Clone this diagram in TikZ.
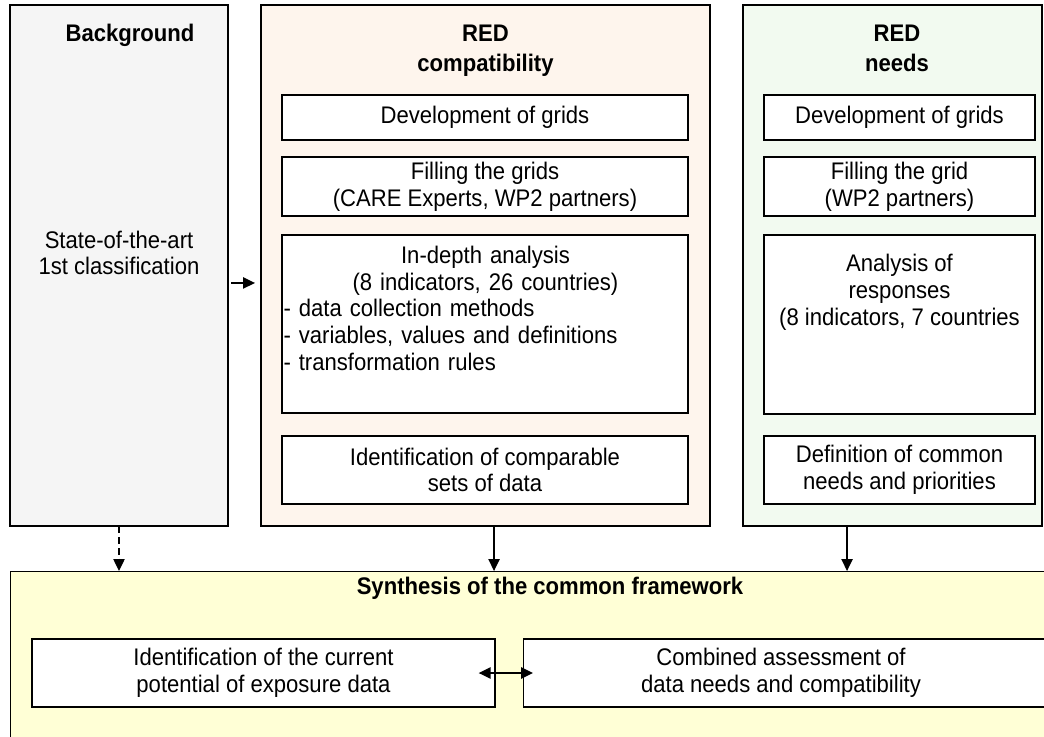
\documentclass[tikz,border=0pt]{standalone}
\usepackage{fontspec}
\setmainfont{Liberation Sans}[FakeStretch=0.92]
\usetikzlibrary{arrows.meta}

\definecolor{bgGray}{RGB}{245,245,245}
\definecolor{cmpPeach}{RGB}{254,245,237}
\definecolor{needGreen}{RGB}{242,250,240}
\definecolor{synYellow}{RGB}{255,255,214}

\newlength{\pxu}
\setlength{\pxu}{0.75pt}

\tikzset{every picture/.style={line width=0.75pt}}
\tikzset{
  colbox/.style={draw, line width=1pt, rectangle, inner sep=0pt},
  inbox/.style={draw, fill=white, line width=1pt, rectangle, inner sep=0pt, align=center},
  ttl/.style={inner sep=0pt, font=\bfseries},
  txt/.style={inner sep=0pt, align=center},
  arr/.style={line width=1pt, -{Triangle[length=9pt,width=8.5pt]}},
  dblarr/.style={line width=1.2pt, {Triangle[length=9pt,width=8.5pt]}-{Triangle[length=9pt,width=8.5pt]}},
}

\begin{document}
\fontsize{18pt}{20pt}\selectfont
\begin{tikzpicture}[x=0.75pt,y=0.75pt,yscale=-1,xscale=1]
\useasboundingbox (0,0) rectangle (1044,737);
\clip (0,0) rectangle (1044,737);

%Shape: Rectangle [id:bgBox]
\node[colbox, fill=bgGray, minimum width=218\pxu, minimum height=521\pxu] (bgBox) at (119,265.5) {};
%Shape: Rectangle [id:cmpBox]
\node[colbox, fill=cmpPeach, minimum width=449\pxu, minimum height=521\pxu] (cmpBox) at (485.5,265.5) {};
%Shape: Rectangle [id:needBox]
\node[colbox, fill=needGreen, minimum width=299\pxu, minimum height=521\pxu] (needBox) at (892.5,265.5) {};
%Shape: Rectangle [id:synBox]
\node[colbox, fill=synYellow, minimum width=1080\pxu, minimum height=200\pxu, anchor=north west] (synBox) at (10,571) {};

% Titles
\node[ttl, anchor=base] (bgTitle) at (130,42) {Background};
\node[ttl, anchor=base] (cmpTitleA) at (485.5,42) {RED};
\node[ttl, anchor=base] (cmpTitleB) at (485.5,72) {compatibility};
\node[ttl, anchor=base] (needTitleA) at (897,42) {RED};
\node[ttl, anchor=base] (needTitleB) at (897,72) {needs};
\node[ttl, anchor=base] (synTitle) at (550,594) {Synthesis of the common framework};

% Text Node
\node[txt] (bgText) at (119,253) {State-of-the-art\\1st classification};

%Shape: Rectangles of RED compatibility
\node[inbox, minimum width=406\pxu, minimum height=45\pxu] (cmpDev) at (485,117.5) {Development of grids};
\node[inbox, minimum width=406\pxu, minimum height=59\pxu] (cmpFill) at (485,186.5) {Filling the grids\\(CARE Experts, WP2 partners)};
\node[inbox, minimum width=406\pxu, minimum height=178\pxu] (cmpAna) at (485,324) {};
\node[inbox, minimum width=406\pxu, minimum height=68\pxu] (cmpId) at (485,470) {Identification of comparable\\sets of data};
% Text Node
\node[inner sep=0pt, anchor=north west, text width=404\pxu, align=left] (cmpAnaText) at (283,245.5)
  {{\centering In-depth analysis\\(8 indicators, 26 countries)\par}
   - data collection methods\\- variables, values and definitions\\- transformation rules};

%Shape: Rectangles of RED needs
\node[inbox, minimum width=271\pxu, minimum height=45\pxu] (needDev) at (899.5,117.5) {Development of grids};
\node[inbox, minimum width=271\pxu, minimum height=59\pxu] (needFill) at (899.5,186.5) {Filling the grid\\(WP2 partners)};
\node[inbox, minimum width=271\pxu, minimum height=179\pxu] (needAna) at (899.5,324.5) {};
\node[inbox, minimum width=271\pxu, minimum height=68\pxu] (needDef) at (899.5,470) {Definition of common\\needs and priorities};
% Text Node
\node[txt, anchor=north] (needAnaText) at (899.5,254) {Analysis of\\responses\\(8 indicators, 7 countries};

%Shape: Rectangles of the synthesis
\node[inbox, minimum width=463\pxu, minimum height=68\pxu] (synCur) at (263.5,673) {Identification of the current\\potential of exposure data};
\node[inbox, minimum width=560\pxu, minimum height=68\pxu, anchor=west] (synComb) at (523,673) {};
% Text Node
\node[txt] (synCombText) at (781,673) {Combined assessment of\\data needs and compatibility};

%Straight Lines
\draw[arr, shorten <=2pt, shorten >=4pt] ([yshift=13.1pt]bgBox.east) -- ([yshift=13.1pt]cmpBox.west);
\draw[arr, dash pattern=on 5pt off 3pt] (bgBox.south) -- (bgBox.south |- synBox.north);
\draw[arr] ([xshift=6.4pt]cmpBox.south) -- ([xshift=6.4pt]cmpBox.south |- synBox.north);
\draw[arr] ([xshift=-34.1pt]needBox.south) -- ([xshift=-34.1pt]needBox.south |- synBox.north);
\draw[dblarr, shorten <=-12.75pt, shorten >=-7.5pt] (synCur.east) -- (synComb.west);
\end{tikzpicture}
\end{document}
